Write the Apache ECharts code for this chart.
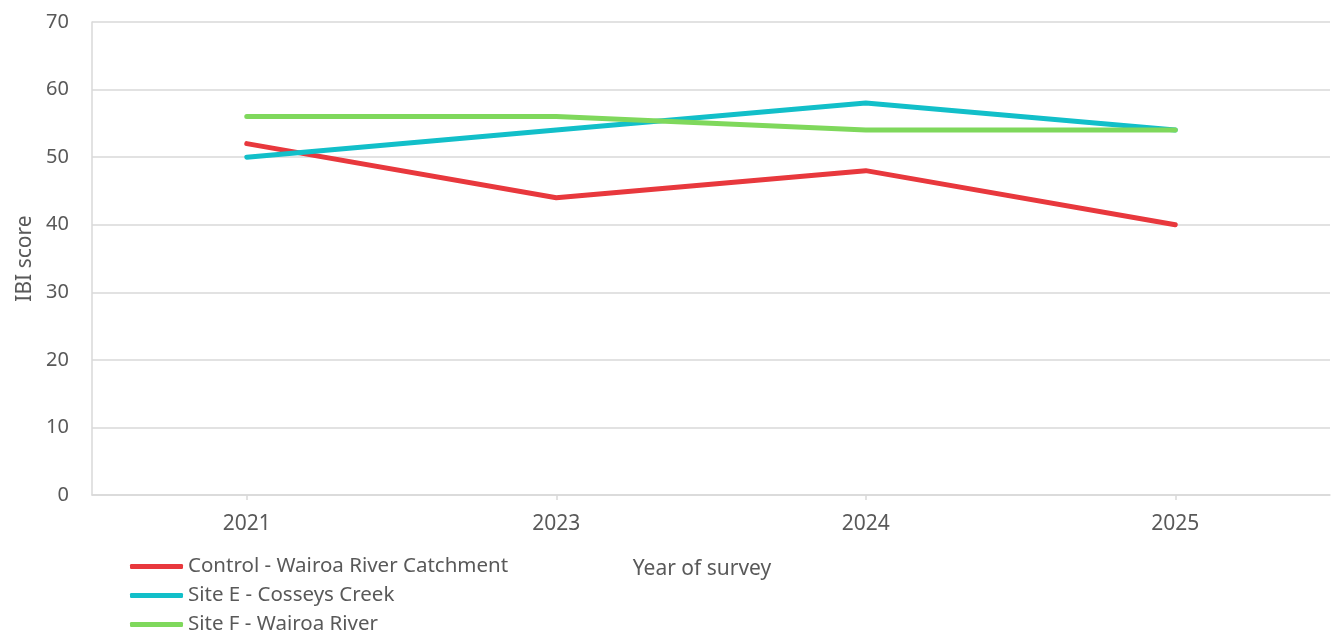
<!DOCTYPE html>
<html>
<head>
<meta charset="utf-8">
<script src="https://cdn.jsdelivr.net/npm/echarts@6/dist/echarts.min.js"></script>
<style>html,body{margin:0;padding:0;background:#fff}#c{width:1332px;height:635px}</style>
</head>
<body>
<div id="c"></div>
<script>
const years = ['2021', '2023', '2024', '2025'];
const controlWairoa = [52, 44, 48, 40];
const siteECosseys = [50, 54, 58, 54];
const siteFWairoa = [56, 56, 54, 54];
const seriesNames = ['Control - Wairoa River Catchment', 'Site E - Cosseys Creek', 'Site F - Wairoa River'];

const font = 'Noto Sans';
const txt = '#595959';
const chart = echarts.init(document.getElementById('c'));
const mk = (name, data, color) => ({
  name, type: 'line', data, symbol: 'none', smooth: false,
  lineStyle: { color, width: 5, cap: 'round', join: 'round' },
  itemStyle: { color }
});
const legendTops = [556, 585, 614];
chart.setOption({
  animation: false,
  textStyle: { fontFamily: font },
  grid: { left: 92, right: 2, top: 22, bottom: 140, containLabel: false },
  legend: seriesNames.map((n, i) => ({
    orient: 'vertical', left: 130, top: legendTops[i], padding: 0,
    itemWidth: 53, itemHeight: 5, icon: 'roundRect', itemGap: 0,
    textStyle: { fontFamily: font, fontSize: 20.5, color: txt, padding: [0, 0, 0, 0] },
    data: [n]
  })),
  xAxis: {
    type: 'category', data: years, boundaryGap: true,
    name: 'Year of survey', nameLocation: 'middle', nameGap: 64,
    nameTextStyle: { fontFamily: font, fontSize: 21, color: txt, padding: [0, 18, 0, 0] },
    axisLine: { lineStyle: { color: '#d9d9d9', width: 1.5 } },
    axisTick: { show: true, alignWithLabel: true, length: 5, lineStyle: { color: '#d9d9d9', width: 1.5 } },
    axisLabel: { fontFamily: font, fontSize: 21, color: txt, margin: 19 }
  },
  yAxis: {
    type: 'value', min: 0, max: 70, interval: 10,
    name: 'IBI score', nameLocation: 'middle', nameGap: 50,
    nameTextStyle: { fontFamily: font, fontSize: 21, color: txt },
    axisLine: { show: true, lineStyle: { color: '#d9d9d9', width: 1.5 } },
    axisTick: { show: false },
    splitLine: { lineStyle: { color: '#d9d9d9', width: 1.5 } },
    axisLabel: { fontFamily: font, fontSize: 20, color: txt, margin: 23 }
  },
  series: [
    mk(seriesNames[0], controlWairoa, '#e8383d'),
    mk(seriesNames[1], siteECosseys, '#12bfc9'),
    mk(seriesNames[2], siteFWairoa, '#7fd85c')
  ]
});
</script>
</body>
</html>
